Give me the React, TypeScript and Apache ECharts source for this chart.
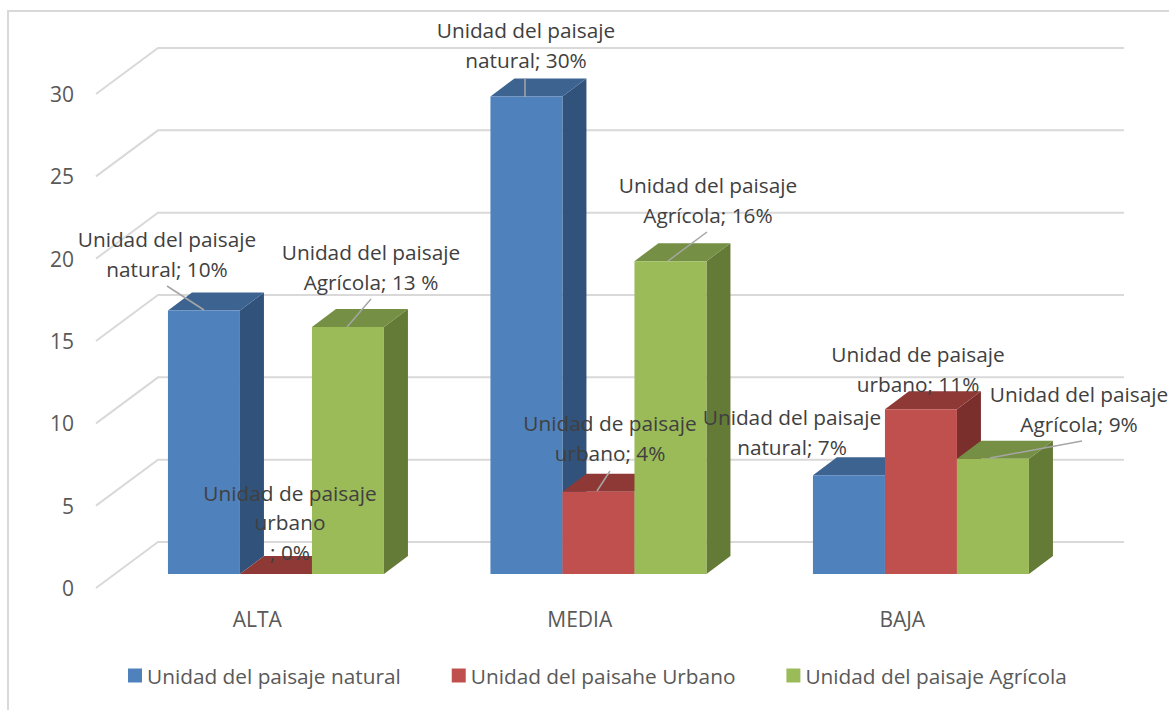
import React, { useEffect, useRef } from "react";
import * as echarts from "echarts";

const categories = ["ALTA", "MEDIA", "BAJA"];
const naturalValues = [16, 29, 6];
const urbanValues = [0, 5, 10];
const agricolaValues = [15, 19, 7];
const yTicks = [0, 5, 10, 15, 20, 25, 30];
const seriesNames = ["Unidad del paisaje natural", "Unidad del paisahe Urbano", "Unidad del paisaje Agrícola"];

const FONT = "Open Sans";
const frontColors = ["#4f81bd", "#c0504d", "#9bbb59"];
const topColors = ["#3d6391", "#8f3937", "#758f44"];
const sideColors = ["#31527b", "#7a2f2d", "#647a37"];

const labelTexts = [
  "Unidad del paisaje\nnatural; 10%",
  "Unidad de paisaje\nurbano\n; 0%",
  "Unidad del paisaje\nAgrícola; 13 %",
  "Unidad del paisaje\nnatural; 30%",
  "Unidad de paisaje\nurbano; 4%",
  "Unidad del paisaje\nAgrícola; 16%",
  "Unidad del paisaje\nnatural; 7%",
  "Unidad de paisaje\nurbano; 11%",
  "Unidad del paisaje\nAgrícola; 9%",
];
const labelPositions = [
  [167, 254], [290, 522], [371, 267],
  [526, 45], [610, 438], [708, 200],
  [792, 432], [918, 369], [1079, 409],
];
const leaders = [
  [167, 286, 204, 310],
  [371, 299, 347, 327],
  [525, 78, 525, 97],
  [707, 232, 668, 261],
  [610, 471, 597, 491],
  [1082, 441, 990, 458],
];

const BAR_W = 72;
const BAR_DX = 24;
const BAR_DY = 18;
const FRONT_DX = 18.7;
const FRONT_DY = 14;
const WALL_DX = 62;
const WALL_DY = 46;

function barSeries(index: number, values: number[]) {
  return {
    type: "custom",
    name: seriesNames[index],
    itemStyle: { color: frontColors[index] },
    encode: { x: 0, y: 1 },
    data: values.map((v, i) => [i, v]),
    z: 3 + index,
    renderItem: (_p: any, api: any) => {
      const [cx, yTop] = api.coord([api.value(0), api.value(1)]);
      const [, yBase] = api.coord([api.value(0), 0]);
      const x0 = cx + FRONT_DX - (BAR_W * 3) / 2 + BAR_W * index;
      const x1 = x0 + BAR_W;
      const t = yTop - FRONT_DY;
      const b = yBase - FRONT_DY;
      return {
        type: "group",
        children: [
          {
            type: "polygon",
            shape: { points: [[x1, t], [x1 + BAR_DX, t - BAR_DY], [x1 + BAR_DX, b - BAR_DY], [x1, b]] },
            style: { fill: sideColors[index] },
          },
          {
            type: "polygon",
            shape: { points: [[x0, t], [x1, t], [x1 + BAR_DX, t - BAR_DY], [x0 + BAR_DX, t - BAR_DY]] },
            style: { fill: topColors[index] },
          },
          {
            type: "rect",
            shape: { x: x0, y: t, width: BAR_W, height: b - t },
            style: { fill: frontColors[index] },
          },
        ],
      };
    },
  };
}

export default function App() {
  const ref = useRef<HTMLDivElement>(null);
  useEffect(() => {
    document.body.style.margin = "0";
    const chart = echarts.init(ref.current!, undefined, { renderer: "svg" });
    chart.setOption({
      animation: false,
      backgroundColor: "#ffffff",
      textStyle: { fontFamily: FONT },
      grid: { left: 96, top: 94, width: 967.5, height: 494 },
      xAxis: {
        type: "category",
        data: categories,
        axisLine: { show: false },
        axisTick: { show: false },
        axisLabel: { color: "#595959", fontFamily: FONT, fontSize: 21, margin: 20 },
      },
      yAxis: {
        type: "value",
        min: 0,
        max: 30,
        interval: 5,
        axisLine: { show: false },
        axisTick: { show: false },
        splitLine: { show: false },
        axisLabel: { color: "#595959", fontFamily: FONT, fontSize: 21, margin: 22 },
      },
      legend: {
        left: 128,
        top: 665,
        padding: 0,
        itemWidth: 14,
        itemHeight: 14,
        itemGap: 51,
        icon: "rect",
        data: seriesNames,
        textStyle: { color: "#595959", fontFamily: FONT, fontSize: 20.8 },
      },
      series: [
        {
          type: "custom",
          name: "walls",
          encode: { y: 0 },
          data: yTicks.map((v) => [v]),
          z: 1,
          silent: true,
          renderItem: (p: any, api: any) => {
            const y = api.coord([0, api.value(0)])[1];
            const sys = p.coordSys;
            return {
              type: "polyline",
              shape: {
                points: [
                  [sys.x, y],
                  [sys.x + WALL_DX, y - WALL_DY],
                  [sys.x + sys.width + WALL_DX - 1.5, y - WALL_DY],
                ],
              },
              style: { stroke: "#d9d9d9", lineWidth: 2, fill: "none" },
            };
          },
        },
        barSeries(0, naturalValues),
        barSeries(1, urbanValues),
        barSeries(2, agricolaValues),
      ],
      graphic: [
        {
          type: "polyline",
          z: 1,
          shape: { points: [[8, 710], [8, 11], [1169, 11]] },
          style: { stroke: "#d9d9d9", lineWidth: 2, fill: "none" },
        },
        ...leaders.map((l) => ({
          type: "line",
          z: 100,
          shape: { x1: l[0], y1: l[1], x2: l[2], y2: l[3] },
          style: { stroke: "#a6a6a6", lineWidth: 1.5 },
        })),
        ...labelTexts.map((t, i) => ({
          type: "text",
          z: 101,
          x: labelPositions[i][0],
          y: labelPositions[i][1],
          style: {
            text: t,
            fill: "#404040",
            font: `20.8px ${FONT}`,
            lineHeight: 29.5,
            align: "center",
            verticalAlign: "middle",
          },
        })),
      ],
    });
    return () => chart.dispose();
  }, []);
  return <div ref={ref} style={{ position: "absolute", left: 0, top: 0, width: 1169, height: 710 }} />;
}
